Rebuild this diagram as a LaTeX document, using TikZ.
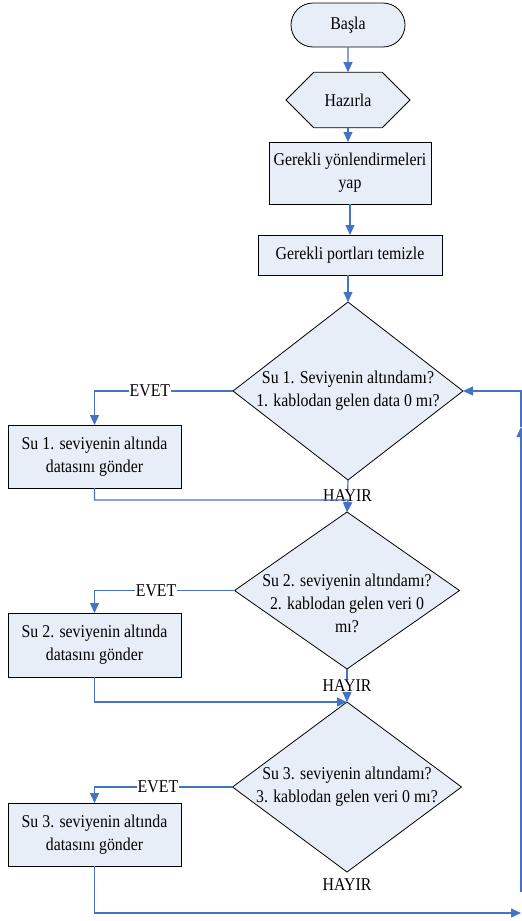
\documentclass[tikz,border=0pt]{standalone}
\usepackage{fontspec}
\setmainfont{Liberation Serif}[FakeStretch=0.88]
\usetikzlibrary{shapes.geometric,shapes.misc,arrows.meta}
\definecolor{akiscizgi}{RGB}{68,114,196}
\definecolor{kutudolgu}{RGB}{232,238,247}

\begin{document}
\begin{tikzpicture}[x=1pt,y=-1pt,
  every node/.style={font=\fontsize{18}{23}\selectfont},
  kutu/.style={draw=black,line width=.8pt,fill=kutudolgu,align=center,
    inner sep=0pt,outer sep=0pt},
  karar/.style={kutu,diamond},
  akis/.style={draw=akiscizgi,line width=1.2pt,-{Triangle[length=10pt,width=9pt]}},
  etiket/.style={fill=white,inner sep=1pt}]
\useasboundingbox (0,0) rectangle (522,921);

%% ana akis
\node[kutu,rounded rectangle,minimum width=114pt,minimum height=44pt] (basla) at (348,25) {Başla};
\node[kutu,chamfered rectangle,chamfered rectangle xsep=24pt,chamfered rectangle ysep=21.5pt,
  minimum width=124pt,minimum height=43pt] (hazirla) at (348,100) {Hazırla};
\node[kutu,minimum width=162pt,minimum height=62pt] (yonlen) at (350,173) {Gerekli yönlendirmeleri\\yap};
\node[kutu,minimum width=184pt,minimum height=40pt] (portlar) at (350,255) {Gerekli portları temizle};

%% kararlar
\node[karar,minimum width=230pt,minimum height=178pt,
  label={[align=center]center:Su 1. Seviyenin altındamı?\\1. kablodan gelen data 0 mı?}] (karar1) at (348,391) {};
\node[karar,minimum width=225pt,minimum height=157pt,
  label={[align=center,yshift=-13pt]center:Su 2. seviyenin altındamı?\\2. kablodan gelen veri 0\\mı?}] (karar2) at (347,590.5) {};
\node[karar,minimum width=229pt,minimum height=170pt,
  label={[align=center]center:Su 3. seviyenin altındamı?\\3. kablodan gelen veri 0 mı?}] (karar3) at (347,787) {};
\node (hayir3) at (347,885) {HAYIR};

%% gonderme kutulari
\node[kutu,minimum width=173pt,minimum height=63pt] (gonder1) at (94.5,456.5) {Su 1. seviyenin altında\\datasını gönder};
\node[kutu,minimum width=173pt,minimum height=64pt] (gonder2) at (94.5,645) {Su 2. seviyenin altında\\datasını gönder};
\node[kutu,minimum width=173pt,minimum height=63pt] (gonder3) at (94.5,834.5) {Su 3. seviyenin altında\\datasını gönder};

\coordinate (ara1) at (348,500);
\coordinate (son) at (521,913);
\coordinate (donus) at (521,892);
\coordinate (donusok) at (521,427);

\draw[akis] (basla) -- (hazirla);
\draw[akis] (hazirla.south) -- (hazirla.south |- yonlen.north);
\draw[akis] (yonlen.south) -- (portlar.north);
\draw[akis] (portlar.south -| karar1.north) -- (karar1.north);

\draw[akis] (karar1.west) -| node[etiket,pos=.3]{EVET} (gonder1.north);
\draw[akis] (karar2.west) -| node[etiket,pos=.28]{EVET} (gonder2.north);
\draw[akis] (karar3.west) -| node[etiket,pos=.27]{EVET} (gonder3.north);

\draw[akis] (karar1.south) -- node[etiket]{HAYIR} (karar2.north);
\draw[akis] (karar2.south) -- node[etiket]{HAYIR} (karar3.north);

\draw[akis] (gonder1.south) |- (ara1) -- (karar2.north);
\draw[akis] (gonder2.south) |- (karar3.north);
\draw[akis] (gonder3.south) |- (son);
\draw[akis] (donus) -- (donusok);
\draw[akis] (donusok) |- (karar1.east);
\end{tikzpicture}
\end{document}
